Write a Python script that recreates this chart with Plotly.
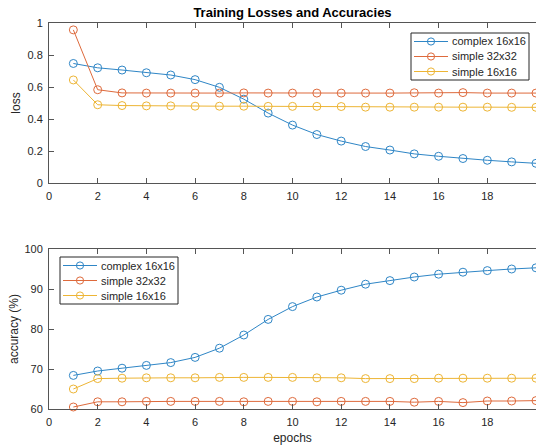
import plotly.graph_objects as go

epochs = list(range(1, 21))

loss_complex16 = [0.747, 0.72, 0.706, 0.689, 0.675, 0.646, 0.598, 0.524, 0.437, 0.362,
                  0.303, 0.262, 0.228, 0.206, 0.182, 0.167, 0.153, 0.142, 0.132, 0.123]
loss_simple32 = [0.957, 0.583, 0.563, 0.562, 0.562, 0.562, 0.562, 0.563, 0.562, 0.562,
                 0.562, 0.562, 0.562, 0.562, 0.564, 0.562, 0.565, 0.562, 0.562, 0.562]
loss_simple16 = [0.644, 0.489, 0.484, 0.482, 0.482, 0.48, 0.48, 0.48, 0.479, 0.479,
                 0.479, 0.478, 0.474, 0.474, 0.474, 0.474, 0.474, 0.474, 0.473, 0.473]

acc_complex16 = [68.4, 69.5, 70.2, 70.9, 71.6, 72.9, 75.2, 78.5, 82.4, 85.6,
                 88.0, 89.7, 91.2, 92.1, 93.0, 93.7, 94.2, 94.6, 95.0, 95.3]
acc_simple32 = [60.5, 61.8, 61.8, 61.9, 61.9, 61.9, 61.9, 61.8, 61.9, 61.9,
                61.8, 61.9, 61.9, 61.9, 61.7, 61.9, 61.6, 62.0, 62.0, 62.1]
acc_simple16 = [65.0, 67.6, 67.7, 67.8, 67.8, 67.8, 67.9, 67.9, 67.9, 67.9,
                67.8, 67.8, 67.6, 67.6, 67.6, 67.7, 67.7, 67.7, 67.7, 67.7]

series_names = ["complex 16x16", "simple 32x32", "simple 16x16"]
colors = ["#2F86C6", "#DE6A3C", "#EDB535"]

x_ticks = list(range(0, 21, 2))
loss_ticks = [0, 0.2, 0.4, 0.6, 0.8, 1]
acc_ticks = [60, 70, 80, 90, 100]

FONT = "Liberation Sans, Arial, sans-serif"
TXT = "#262626"
AX = "#555555"

W, H = 536, 445
PLOT_L, PLOT_R, PLOT_T, PLOT_B = 49, 536, 23, 409   # pixels
ML, MR, MT, MB = PLOT_L, W - PLOT_R, PLOT_T, H - PLOT_B
PW, PH = PLOT_R - PLOT_L, PLOT_B - PLOT_T


def px_x(px):
    return (px - PLOT_L) / PW


def px_y(py):
    return (PLOT_B - py) / PH


fig = go.Figure()

for name, ys, c in zip(series_names, [loss_complex16, loss_simple32, loss_simple16], colors):
    fig.add_trace(go.Scatter(
        x=epochs, y=ys, name=name, mode="lines+markers", showlegend=False,
        line=dict(color=c, width=1),
        marker=dict(symbol="circle-open", size=8, color=c, line=dict(width=1)),
        xaxis="x", yaxis="y", cliponaxis=False,
    ))

for name, ys, c in zip(series_names, [acc_complex16, acc_simple32, acc_simple16], colors):
    fig.add_trace(go.Scatter(
        x=epochs, y=ys, name=name, mode="lines+markers", showlegend=False,
        line=dict(color=c, width=1),
        marker=dict(symbol="circle-open", size=8, color=c, line=dict(width=1)),
        xaxis="x2", yaxis="y2", cliponaxis=False,
    ))

# MATLAB-style legend boxes (compact rows), built from the series names/colours
shapes, annotations = [], []


def add_legend(x0, y0, w=118, h=47, row0=8.5, dy=15):
    shapes.append(dict(type="rect", xref="paper", yref="paper",
                       x0=px_x(x0), x1=px_x(x0 + w), y0=px_y(y0 + h), y1=px_y(y0),
                       line=dict(color="#262626", width=1), fillcolor="white", layer="above"))
    for i, (name, c) in enumerate(zip(series_names, colors)):
        yy = y0 + row0 + i * dy
        shapes.append(dict(type="line", xref="paper", yref="paper",
                           x0=px_x(x0 + 3), x1=px_x(x0 + 37), y0=px_y(yy), y1=px_y(yy),
                           line=dict(color=c, width=1), layer="above"))
        shapes.append(dict(type="circle", xref="paper", yref="paper",
                           xsizemode="pixel", ysizemode="pixel",
                           xanchor=px_x(x0 + 20), yanchor=px_y(yy),
                           x0=-3.6, x1=3.6, y0=-3.6, y1=3.6,
                           line=dict(color=c, width=1), fillcolor="rgba(0,0,0,0)", layer="above"))
        annotations.append(dict(text=name, xref="paper", yref="paper",
                                x=px_x(x0 + 39), y=px_y(yy), xanchor="left", yanchor="middle",
                                showarrow=False, font=dict(family=FONT, size=11, color=TXT)))


add_legend(411, 33)
add_legend(60, 257)

axis_common = dict(
    showgrid=False, zeroline=False, showline=True, linecolor=AX, linewidth=1,
    ticks="inside", ticklen=5, tickcolor=AX, tickwidth=1, automargin=False,
    tickfont=dict(family=FONT, size=11, color=TXT),
)

TOP = [px_y(183), 1]
BOT = [0, px_y(249)]

fig.update_layout(
    width=W, height=H,
    margin=dict(l=ML, r=MR, t=MT, b=MB, autoexpand=False),
    paper_bgcolor="white", plot_bgcolor="white",
    font=dict(family=FONT, size=11, color=TXT),
    showlegend=False,
    hovermode=False,
    title=dict(text="<b>Training Losses and Accuracies</b>",
               x=((PLOT_L + PLOT_R) / 2) / W, xanchor="center",
               yref="container", y=1 - 12.5 / H, yanchor="middle", automargin=False,
               font=dict(family=FONT, size=13, color="#000000")),
    xaxis=dict(domain=[0, 1], range=[0, 20], tickvals=x_ticks, anchor="y", mirror="ticks",
               ticklabelstandoff=3, **axis_common),
    yaxis=dict(domain=TOP, range=[0, 1], tickvals=loss_ticks, anchor="x", ticklabelstandoff=3,
               title=dict(text="loss", font=dict(family=FONT, size=12, color=TXT), standoff=4),
               **axis_common),
    xaxis2=dict(domain=[0, 1], range=[0, 20], tickvals=x_ticks, anchor="y2", mirror="ticks",
                ticklabelstandoff=3,
                title=dict(text="epochs", font=dict(family=FONT, size=12, color=TXT), standoff=9),
                **axis_common),
    yaxis2=dict(domain=BOT, range=[60, 100], tickvals=acc_ticks, anchor="x2", ticklabelstandoff=3,
                title=dict(text="accuracy (%)", font=dict(family=FONT, size=12, color=TXT), standoff=3),
                **axis_common),
    shapes=shapes,
    annotations=annotations,
)

# Remove the default page margin so the 536x445 figure fills the window exactly.
fig.write_html("out.html", config={"displayModeBar": False, "staticPlot": True},
               post_script="document.body.style.margin='0';document.body.style.overflow='hidden';")
